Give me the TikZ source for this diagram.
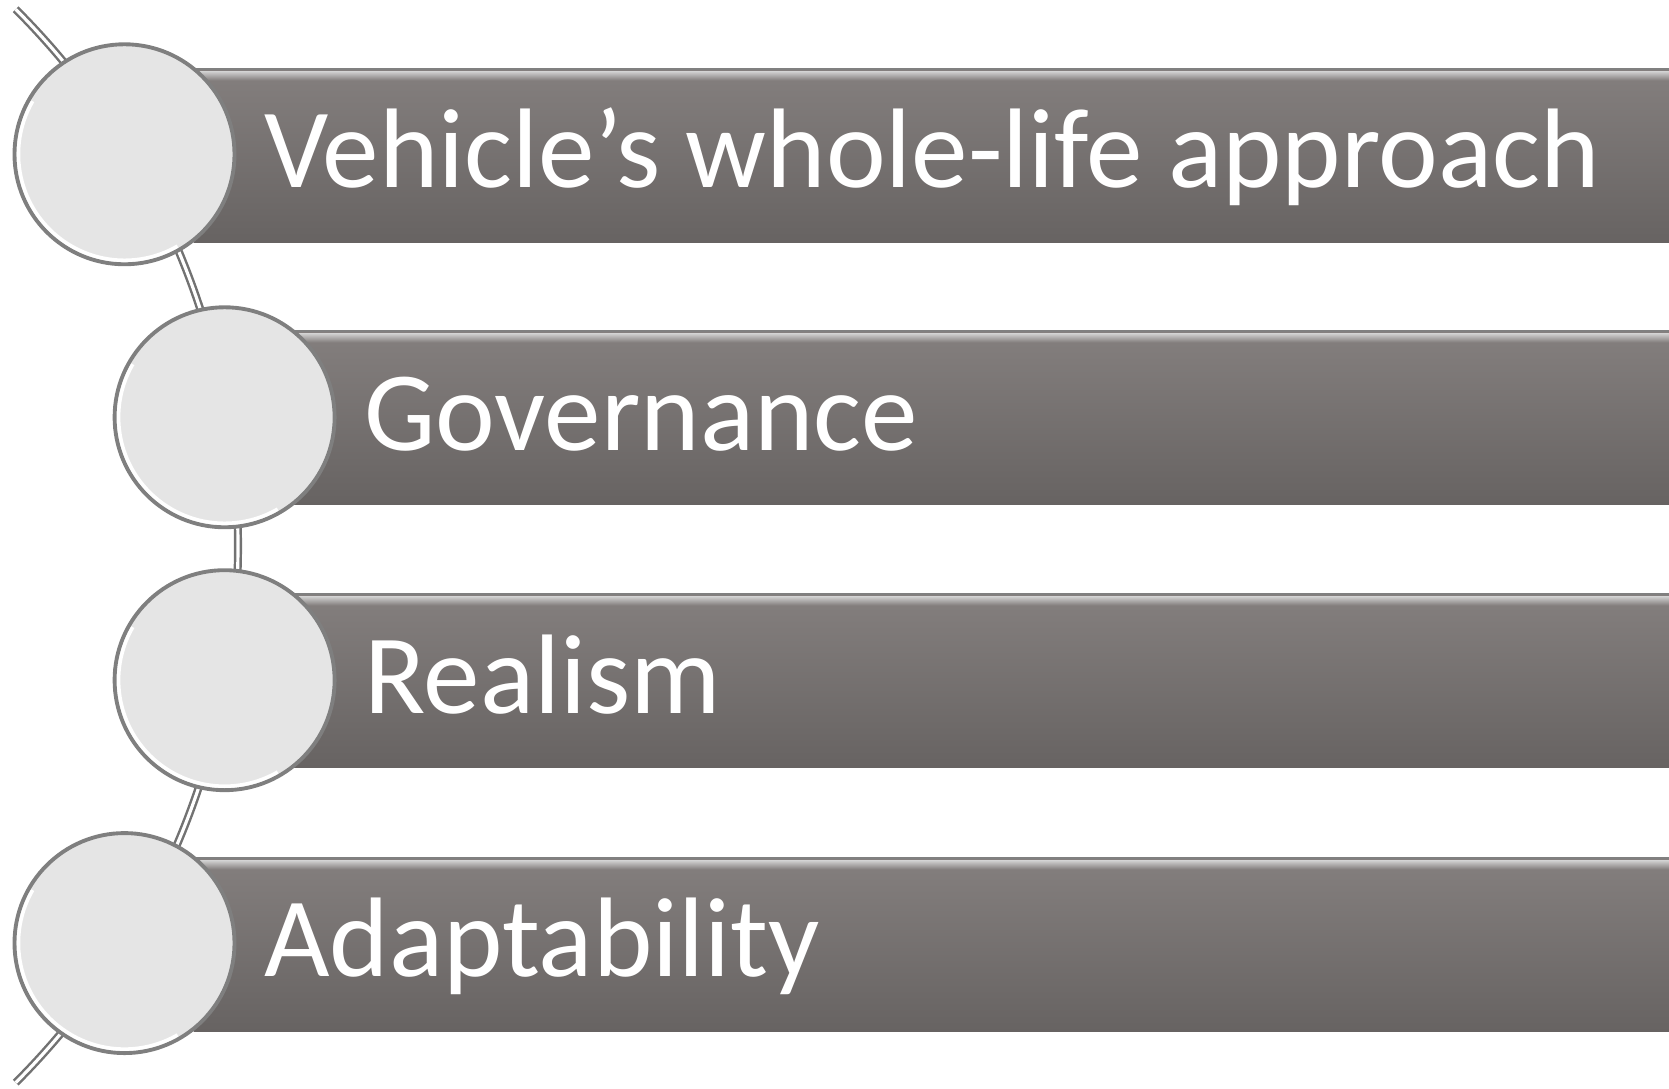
\documentclass[tikz,border=0pt]{standalone}
\usepackage{fontspec}
\setmainfont{Carlito}
\usepackage{tikz}
\usepackage[dvipsnames]{xcolor}
\usetikzlibrary{arrows.meta,calc}

\definecolor{barTop}{HTML}{847F7E}
\definecolor{barBot}{HTML}{676362}
\definecolor{ballFill}{HTML}{E5E5E5}
\definecolor{ballEdge}{HTML}{7F7F7F}

\begin{document}
\begin{tikzpicture}[
    ball/.style={circle,draw=ballEdge,line width=1.1pt,fill=ballFill,minimum size=2.2cm,inner sep=0pt},
    bar/.style={rectangle,anchor=north west,minimum height=1.74cm,inner sep=0pt,top color=barTop,bottom color=barBot},
    gloss/.style={rectangle,anchor=north west,minimum height=0.09cm,inner sep=0pt,top color=gray!35,bottom color=barTop},
    caption/.style={anchor=base west,inner sep=0pt,text=white,font=\fontsize{32.2}{36}\selectfont}
]
                \useasboundingbox (0,0) rectangle (16.69,10.89);
                % the rail behind the balls
                \coordinate (railtop) at (0.157,10.797);
                \draw[ballEdge!90!black,double=white,double distance=0.9pt,line width=0.7pt] (railtop) arc (45:-45:7.59);
                % bars
                \node[bar,minimum width=14.8cm] (b1) at (1.93,10.21) {};
                \node[bar,minimum width=13.8cm] (b2) at (2.93,7.59) {};
                \node[bar,minimum width=13.8cm] (b3) at (2.93,4.96) {};
                \node[bar,minimum width=14.8cm] (b4) at (1.93,2.32) {};
                \fill[gray] (b1.north west) rectangle ++(14.8,-0.025);
                \fill[gray] (b2.north west) rectangle ++(13.8,-0.025);
                \fill[gray] (b3.north west) rectangle ++(13.8,-0.025);
                \fill[gray] (b4.north west) rectangle ++(14.8,-0.025);
                \node[gloss,minimum width=14.8cm] at ($(b1.north west)+(0,-0.025)$) {};
                \node[gloss,minimum width=13.8cm] at ($(b2.north west)+(0,-0.025)$) {};
                \node[gloss,minimum width=13.8cm] at ($(b3.north west)+(0,-0.025)$) {};
                \node[gloss,minimum width=14.8cm] at ($(b4.north west)+(0,-0.025)$) {};
                % balls
                \node[ball] (c1) at (1.245,9.347) {};
                \node[ball] (c2) at (2.246,6.717) {};
                \node[ball] (c3) at (2.246,4.088) {};
                \node[ball] (c4) at (1.245,1.459) {};
                \draw[white,line width=1pt] ($(c1)+(150:1.06)$) arc (150:300:1.06);
                \draw[white,line width=1pt] ($(c2)+(150:1.06)$) arc (150:300:1.06);
                \draw[white,line width=1pt] ($(c3)+(150:1.06)$) arc (150:300:1.06);
                \draw[white,line width=1pt] ($(c4)+(150:1.06)$) arc (150:300:1.06);
                % captions
                \node[caption] (t1) at ($(c1)+(1.39,-0.33)$) {Vehicle’s whole-life approach};
                \node[caption] (t2) at ($(c2)+(1.39,-0.33)$) {Governance};
                \node[caption] (t3) at ($(c3)+(1.39,-0.33)$) {Realism};
                \node[caption] (t4) at ($(c4)+(1.39,-0.33)$) {Adaptability};
            \end{tikzpicture}
\end{document}
